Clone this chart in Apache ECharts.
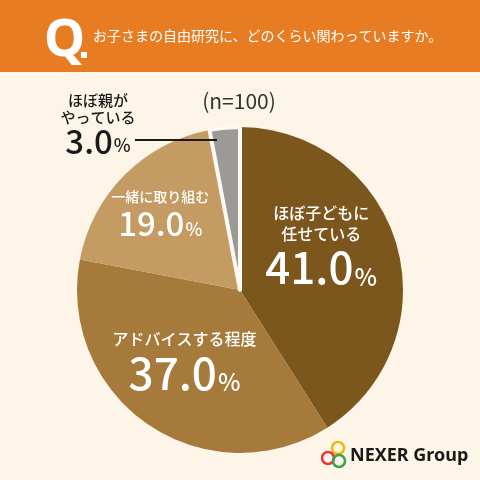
<!DOCTYPE html>
<html>
<head>
<meta charset="utf-8">
<script src="https://cdn.jsdelivr.net/npm/echarts@6/dist/echarts.min.js"></script>
<style>
  html, body { margin: 0; padding: 0; background: #fdf6e8; }
  #chart { width: 480px; height: 480px; }
</style>
</head>
<body>
<div id="chart"></div>
<script>
// 回答の選択肢と割合
var answerNames = ['ほぼ子どもに\n任せている', 'アドバイスする程度', '一緒に取り組む', 'ほぼ親が\nやっている'];
var answerValues = [41.0, 37.0, 19.0, 3.0];
var sliceColors = ['#7b561d', '#a57a3a', '#c39b63', '#9b9a98'];
var questionText = 'お子さまの自由研究に、どのくらい関わっていますか。';
var sampleText = '(n=100)';

var chart = echarts.init(document.getElementById('chart'));

// ラベルの調整（ピクセル）
var labelShift = [
  { dx: 0, dy: -20 },
  { dx: -8, dy: 2 },
  { dx: -20, dy: -17 },
];

var labelStyles = [
  { t: 16, tl: 21, n: 44, nl: 46, p: 24 },
  { t: 16, tl: 22, n: 44, nl: 46, p: 24 },
  { t: 14, tl: 20, n: 33, nl: 34, p: 18 },
  { t: 15, tl: 17, n: 33, nl: 30, p: 18 },
];

function makeLabel(i) {
  var s = labelStyles[i];
  var color = i < 3 ? '#ffffff' : '#1a1a1a';
  return {
    position: i < 3 ? 'inside' : 'outside',
    formatter: function (p) {
      var lines = p.name.split('\n').map(function (l) { return '{t|' + l + '}'; });
      return lines.join('\n') + '\n{n|' + p.value.toFixed(1) + '}{p|%}';
    },
    rich: {
      t: { fontSize: s.t, lineHeight: s.tl, color: color, fontFamily: 'Noto Sans CJK JP', fontWeight: 500 },
      n: { fontSize: s.n, lineHeight: s.nl, color: color, fontFamily: 'Noto Sans CJK JP', fontWeight: 500 },
      p: { fontSize: s.p, lineHeight: s.nl, color: color, fontFamily: 'Noto Sans CJK JP', fontWeight: 500, verticalAlign: 'bottom', padding: [0, 0, 2, 1] }
    }
  };
}

// 扇形（内側ラベル付き）
var pieData = answerNames.map(function (name, i) {
  var item = {
    name: name,
    value: answerValues[i],
    itemStyle: { color: sliceColors[i] },
    label: i < 3 ? makeLabel(i) : { show: false },
    labelLine: { show: false }
  };
  if (i === 3) {
    item.itemStyle.borderColor = '#fffaf1';
    item.itemStyle.borderWidth = 4;
  }
  return item;
});

// 外側ラベル用の透明な重ね系列（引き出し線を扇形の上に描く）
var overlayData = answerNames.map(function (name, i) {
  return {
    name: name,
    value: answerValues[i],
    itemStyle: { color: 'rgba(0,0,0,0)' },
    label: i === 3 ? makeLabel(i) : { show: false },
    labelLine: { show: i === 3, lineStyle: { color: '#1a1a1a', width: 2 } }
  };
});

var option = {
  backgroundColor: '#fdf6e8',
  animation: false,
  graphic: [
    { type: 'rect', shape: { x: 0, y: 0, width: 480, height: 72 }, style: { fill: '#e87c22' } },
    { type: 'text', x: 44, y: 15, style: { text: 'Q', fill: '#ffffff', font: 'bold 52px "Noto Sans", sans-serif' } },
    { type: 'rect', shape: { x: 81, y: 52, width: 6, height: 6 }, style: { fill: '#ffffff' } },
    { type: 'text', x: 93, y: 36, style: { text: questionText, fill: '#ffffff', font: '14px "Noto Sans CJK JP"', verticalAlign: 'middle' } },
    { type: 'text', x: 239, y: 101, style: { text: sampleText, fill: '#333333', font: '21px "Noto Sans CJK JP"', align: 'center', verticalAlign: 'middle' } },
    // NEXER Group ロゴ
    { type: 'circle', shape: { cx: 338, cy: 448, r: 6 }, style: { fill: 'none', stroke: '#f2b705', lineWidth: 2.5 } },
    { type: 'circle', shape: { cx: 328, cy: 458, r: 6 }, style: { fill: 'none', stroke: '#e0393e', lineWidth: 2.5 } },
    { type: 'circle', shape: { cx: 339, cy: 461, r: 6 }, style: { fill: 'none', stroke: '#3aa346', lineWidth: 2.5 } },
    { type: 'text', x: 350, y: 456, style: { text: 'NEXER Group', fill: '#1a1a1a', font: 'bold 18px "Noto Sans", sans-serif', verticalAlign: 'middle' } }
  ],
  series: [
    {
      type: 'pie',
      z: 2,
      center: [240, 290],
      radius: [0, 163],
      startAngle: 90,
      clockwise: true,
      silent: true,
      avoidLabelOverlap: false,
      data: pieData,
      labelLayout: function (params) {
        var i = params.dataIndex;
        if (i < 3) {
          return { dx: labelShift[i].dx, dy: labelShift[i].dy };
        }
      }
    },
    {
      type: 'pie',
      z: 5,
      center: [240, 290],
      radius: [0, 163],
      startAngle: 90,
      clockwise: true,
      silent: true,
      avoidLabelOverlap: false,
      data: overlayData,
      labelLayout: function (params) {
        if (params.dataIndex === 3) {
          return {
            x: 98,
            y: 124,
            align: 'center',
            verticalAlign: 'middle',
            labelLinePoints: [[217, 140], [176, 140], [135, 140]]
          };
        }
      }
    }
  ]
};

chart.setOption(option);
</script>
</body>
</html>
